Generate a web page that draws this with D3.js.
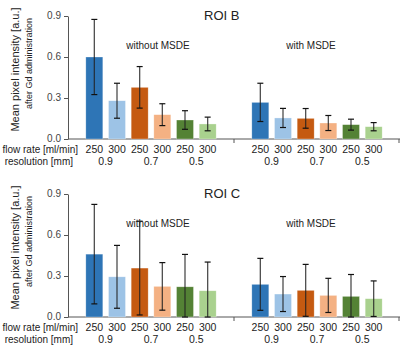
<!DOCTYPE html>
<html>
<head>
<meta charset="utf-8">
<script src="https://cdn.jsdelivr.net/npm/d3@7"></script>
<style>
  body { margin: 0; background: #fff; }
  text { font-family: "Liberation Sans", Arial, sans-serif; }
</style>
</head>
<body>
<div id="chart"></div>
<script>
// categories
var groups = ["without MSDE", "with MSDE"];
var flowRates = ["250", "300", "250", "300", "250", "300"];
var resolutions = ["0.9", "0.7", "0.5"];
var barColors = ["#2e75b6", "#9dc3e6", "#c55a11", "#f4b183", "#548235", "#a9d18e"];
var yTicks = [0, 0.3, 0.6, 0.9];

// ROI B (mean and error per bar), without MSDE then with MSDE
var roiBWithout = [0.60, 0.28, 0.378, 0.178, 0.139, 0.11];
var roiBWithoutErr = [0.275, 0.128, 0.152, 0.08, 0.068, 0.05];
var roiBWith = [0.268, 0.154, 0.151, 0.117, 0.105, 0.09];
var roiBWithErr = [0.14, 0.07, 0.072, 0.055, 0.04, 0.03];

// ROI C
var roiCWithout = [0.46, 0.294, 0.358, 0.224, 0.221, 0.192];
var roiCWithoutErr = [0.364, 0.23, 0.343, 0.174, 0.237, 0.21];
var roiCWith = [0.239, 0.168, 0.195, 0.158, 0.151, 0.134];
var roiCWithErr = [0.19, 0.128, 0.19, 0.125, 0.16, 0.13];

var svg = d3.select("#chart")
    .append("svg")
        .attr("width", 400)
        .attr("height", 345);

// group scale and bar scale inside a group
var x0 = d3.scaleBand()
    .domain(groups)
    .range([68, 400]);

var x1 = d3.scaleBand()
    .domain(d3.range(6))
    .range([0, 136])
    .paddingInner(0.25)
    .paddingOuter(0.125);

var groupOffset = (x0.bandwidth() - 136) / 2;

function drawPanel(title, top, bottom, series) {
    var y = d3.scaleLinear()
        .domain([0, 0.9])
        .range([bottom, top]);

    var g = svg.append("g");

    // y axis
    var yAxisCall = d3.axisLeft(y)
        .tickValues(yTicks)
        .tickFormat(d3.format(".1f"))
        .tickSize(4)
        .tickSizeOuter(0);
    var yAxis = g.append("g")
        .attr("transform", "translate(68,0)")
        .call(yAxisCall);
    yAxis.select(".domain").attr("stroke", "#555");
    yAxis.selectAll(".tick line").attr("stroke", "#555");
    yAxis.selectAll(".tick text")
        .attr("fill", "#444")
        .attr("font-size", "10px")
        .attr("dy", "0.28em")
        .attr("font-family", "Liberation Sans, Arial, sans-serif");

    // x baseline with group separator ticks
    g.append("line")
        .attr("x1", 68).attr("x2", 400)
        .attr("y1", bottom).attr("y2", bottom)
        .attr("stroke", "#555");
    [x0(groups[1]), 399].forEach(function(px){
        g.append("line")
            .attr("x1", px).attr("x2", px)
            .attr("y1", bottom).attr("y2", bottom + 4)
            .attr("stroke", "#555");
    });

    // bars + error bars
    series.forEach(function(s){
        var gx = x0(s.group) + groupOffset;
        s.means.forEach(function(m, i){
            var cx = gx + x1(i) + x1.bandwidth() / 2;
            g.append("rect")
                .attr("x", gx + x1(i))
                .attr("y", y(m))
                .attr("width", x1.bandwidth())
                .attr("height", bottom - y(m))
                .attr("fill", barColors[i])
                .attr("stroke", "#fff")
                .attr("stroke-opacity", 0.5)
                .attr("stroke-width", 0.6);

            var hi = m + s.errs[i],
                lo = Math.max(0, m - s.errs[i]);
            g.append("line")
                .attr("x1", cx).attr("x2", cx)
                .attr("y1", y(hi)).attr("y2", y(lo))
                .attr("stroke", "#222")
                .attr("stroke-opacity", 0.8)
                .attr("stroke-width", 1.3);
            [hi, lo].forEach(function(v){
                g.append("line")
                    .attr("x1", cx - 3).attr("x2", cx + 3)
                    .attr("y1", y(v)).attr("y2", y(v))
                    .attr("stroke", "#111")
                    .attr("stroke-width", 1.2);
            });

            // flow rate label
            g.append("text")
                .attr("x", cx)
                .attr("y", bottom + 14)
                .attr("text-anchor", "middle")
                .attr("font-size", "10.5px")
                .attr("fill", "#222")
                .text(flowRates[i]);
        });

        // resolution labels under each pair
        resolutions.forEach(function(r, k){
            var cx = gx + (x1(2 * k) + x1(2 * k + 1) + x1.bandwidth()) / 2;
            g.append("text")
                .attr("x", cx)
                .attr("y", bottom + 26)
                .attr("text-anchor", "middle")
                .attr("font-size", "10.5px")
                .attr("fill", "#222")
                .text(r);
        });

        // group label
        g.append("text")
            .attr("x", x0(s.group) + x0.bandwidth() / 2 + (s.group == groups[0] ? 7 : -6))
            .attr("y", top + 33)
            .attr("text-anchor", "middle")
            .attr("font-size", "10px")
            .attr("fill", "#222")
            .text(s.group);
    });

    // row labels
    g.append("text")
        .attr("x", 78).attr("y", bottom + 14)
        .attr("text-anchor", "end")
        .attr("font-size", "10px")
        .attr("fill", "#222")
        .text("flow rate [ml/min]");
    g.append("text")
        .attr("x", 73).attr("y", bottom + 26)
        .attr("text-anchor", "end")
        .attr("font-size", "10px")
        .attr("fill", "#222")
        .text("resolution [mm]");

    // panel title
    g.append("text")
        .attr("x", 204).attr("y", top + 4)
        .attr("font-size", "13px")
        .attr("fill", "#222")
        .text(title);

    // y axis titles
    var mid = (top + bottom) / 2;
    g.append("text")
        .attr("transform", "translate(19," + (mid - 8) + ") rotate(-90)")
        .attr("text-anchor", "middle")
        .attr("font-size", "11px")
        .attr("fill", "#222")
        .text("Mean pixel intensity [a.u.]");
    g.append("text")
        .attr("transform", "translate(32," + (mid - 14) + ") rotate(-90)")
        .attr("text-anchor", "middle")
        .attr("font-size", "9px")
        .attr("fill", "#222")
        .text("after Gd administration");
}

drawPanel("ROI B", 16, 139, [
    { group: groups[0], means: roiBWithout, errs: roiBWithoutErr },
    { group: groups[1], means: roiBWith, errs: roiBWithErr }
]);

drawPanel("ROI C", 194, 317, [
    { group: groups[0], means: roiCWithout, errs: roiCWithoutErr },
    { group: groups[1], means: roiCWith, errs: roiCWithErr }
]);
</script>
</body>
</html>
